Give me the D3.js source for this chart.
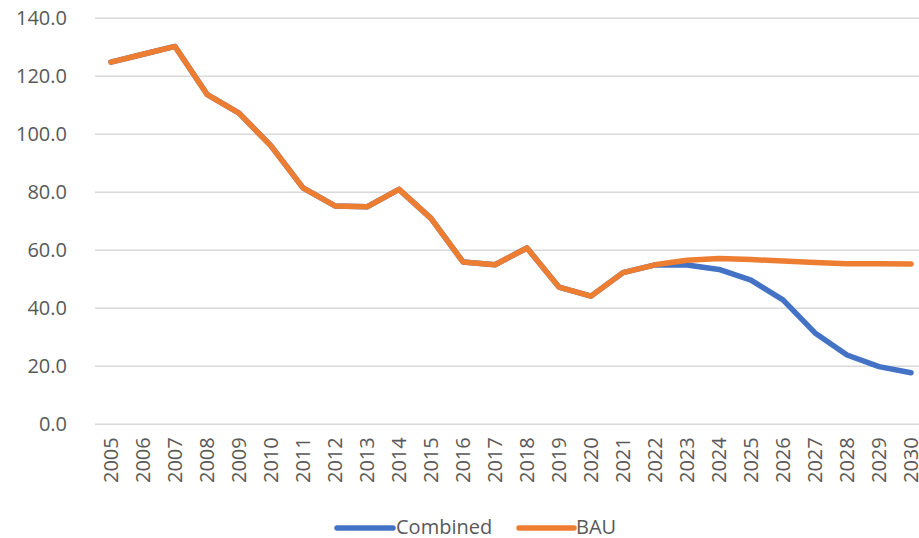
<!DOCTYPE html>
<html><head><meta charset="utf-8">
<script src="https://cdn.jsdelivr.net/npm/d3@7"></script>
<style>body{margin:0;background:#fff}svg{display:block}text{font-family:"Open Sans",sans-serif;fill:#595959}</style>
</head><body><svg id="c" width="919" height="538"></svg>
<script>
const years = ["2005","2006","2007","2008","2009","2010","2011","2012","2013","2014","2015","2016","2017","2018","2019","2020","2021","2022","2023","2024","2025","2026","2027","2028","2029","2030"];
const bau = [124.9,127.6,130.3,113.8,107.3,96.0,81.5,75.3,75.0,81.0,71.0,56.0,55.0,60.8,47.3,44.2,52.3,55.0,56.6,57.2,56.8,56.3,55.8,55.4,55.4,55.3];
const combined = [124.9,127.6,130.3,113.8,107.3,96.0,81.5,75.3,75.0,81.0,71.0,56.0,55.0,60.8,47.3,44.2,52.3,55.0,54.9,53.4,49.7,42.9,31.5,23.9,19.9,17.8];
const yTicks = [0,20,40,60,80,100,120,140];
const seriesNames = ["Combined","BAU"];
const colors = ["#4472C4","#ED7D31"];

(function(){
const svg = d3.select("#c");
const pL = 95, pR = 927, pT = 18.3, pB = 424.3;
const x = d3.scaleBand().domain(years).range([pL, pR]);
const y = d3.scaleLinear().domain([0,140]).range([pB, pT]);

svg.append("g").selectAll("line").data(yTicks).join("line")
  .attr("x1", pL).attr("x2", pR)
  .attr("y1", d => y(d)).attr("y2", d => y(d))
  .attr("stroke", "#D9D9D9").attr("stroke-width", 1.5);

const yAxis = d3.axisLeft(y).tickValues(yTicks).tickFormat(d3.format(".1f")).tickSize(0).tickPadding(0);
const ya = svg.append("g").attr("transform", `translate(67,0)`).call(yAxis);
ya.select(".domain").remove();
ya.selectAll("text").style("font-size","20px").attr("fill","#595959").attr("font-family","Open Sans");

const xAxis = d3.axisBottom(x).tickSize(0).tickPadding(0);
const xa = svg.append("g").attr("transform", `translate(0,${pB})`).call(xAxis);
xa.select(".domain").remove();
xa.selectAll("text").style("font-size","20px").attr("fill","#595959").attr("font-family","Open Sans")
  .attr("text-anchor","end").attr("transform","rotate(-90)")
  .attr("x",-13).attr("y",0).attr("dy","0.35em");

const line = d3.line().x((d,i) => x(years[i]) + x.bandwidth()/2).y(d => y(d));
[combined, bau].forEach((s,k) => {
  svg.append("path").datum(s).attr("d", line).attr("fill","none")
    .attr("stroke", colors[k]).attr("stroke-width", 5.5)
    .attr("stroke-linejoin","round").attr("stroke-linecap","round");
});

const leg = [{x1:337,x2:393,tx:396},{x1:519,x2:574,tx:576}];
leg.forEach((l,k) => {
  svg.append("line").attr("x1",l.x1).attr("x2",l.x2).attr("y1",528).attr("y2",528)
    .attr("stroke",colors[k]).attr("stroke-width",5.5).attr("stroke-linecap","round");
  svg.append("text").attr("x",l.tx).attr("y",527).attr("dy","0.35em")
    .style("font-size","20px").text(seriesNames[k]);
});
})();
</script></body></html>
